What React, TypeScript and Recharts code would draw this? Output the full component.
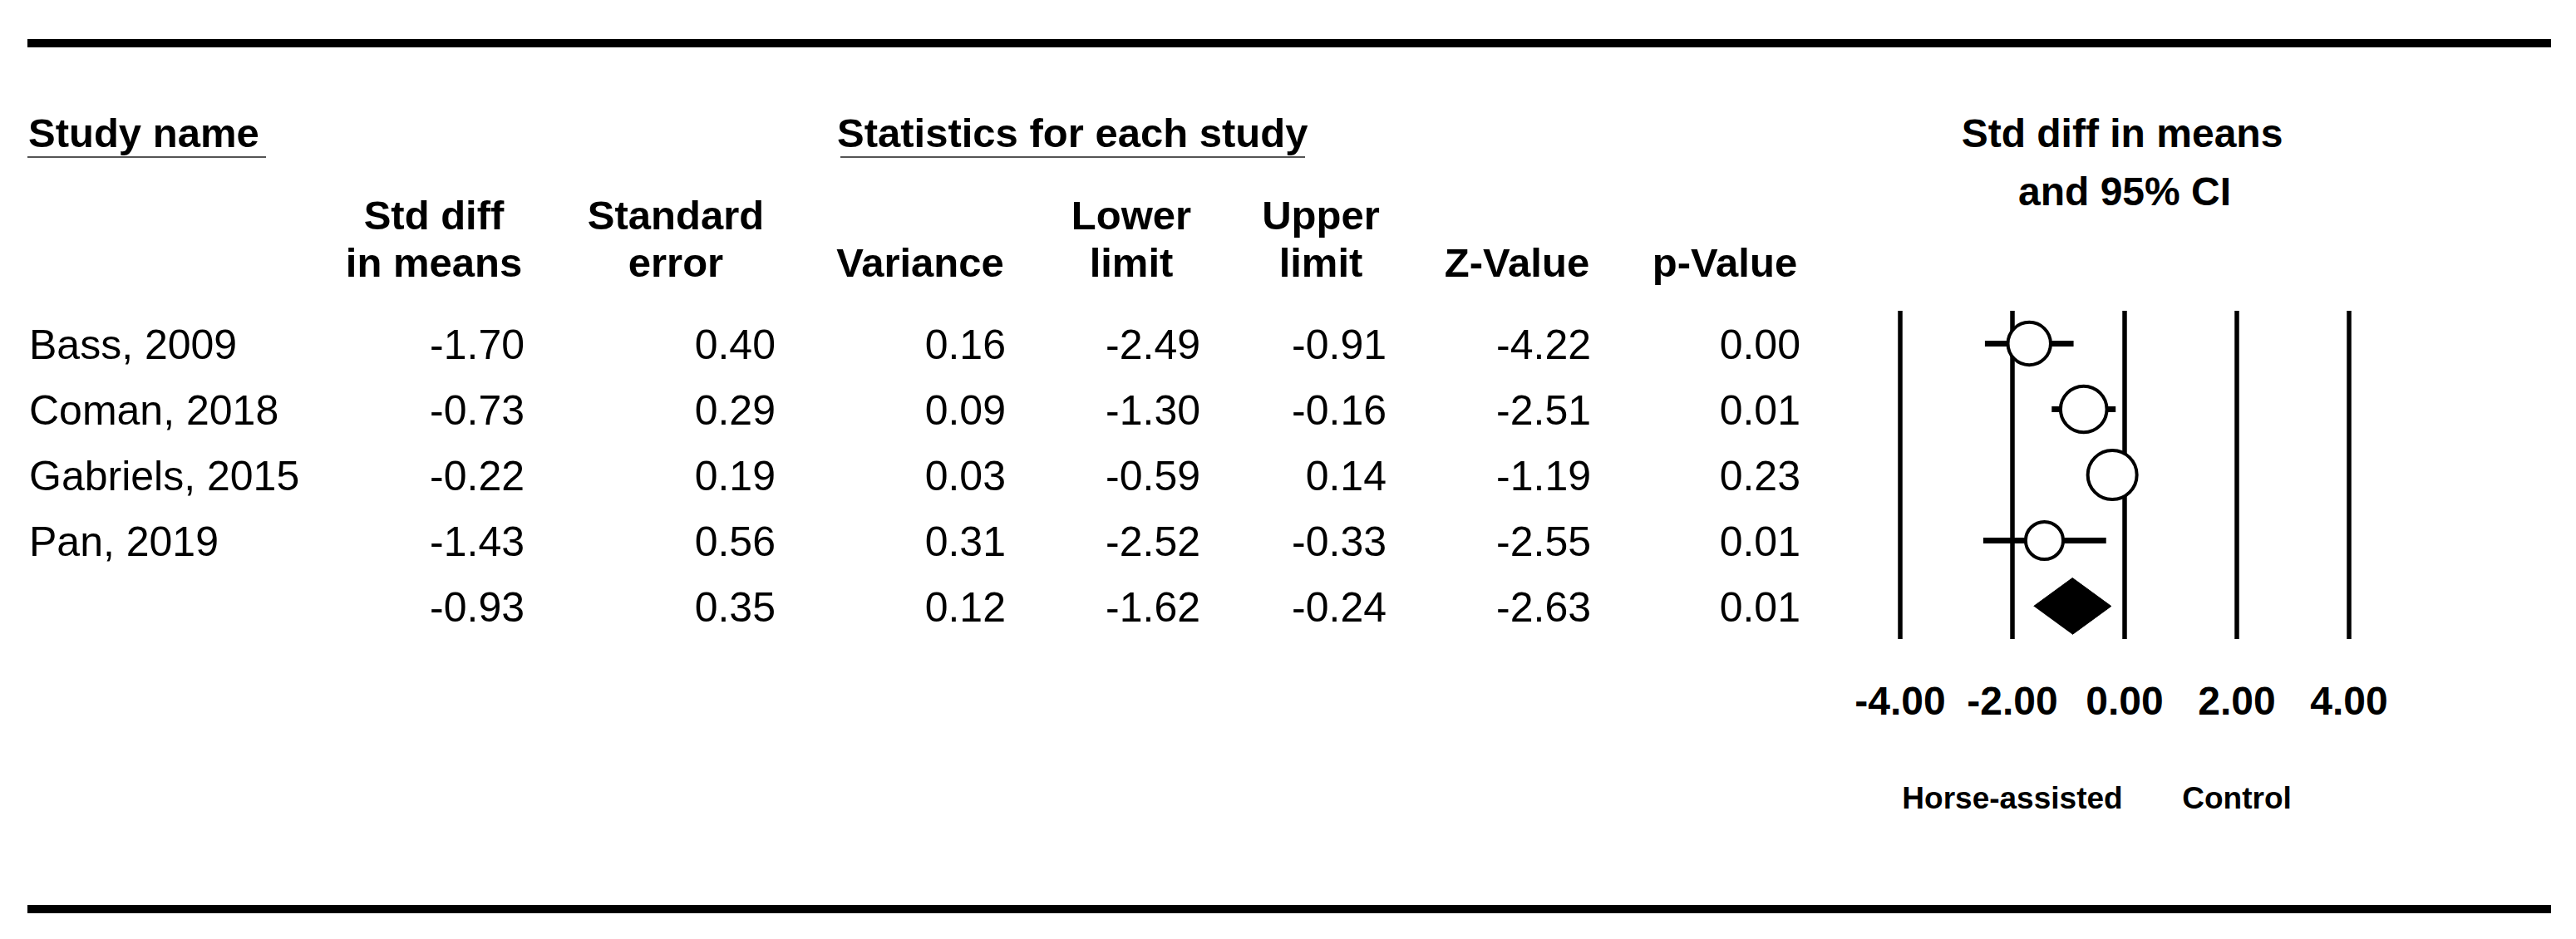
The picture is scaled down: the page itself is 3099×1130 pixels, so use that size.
import React from 'react';
import { ScatterChart, Scatter, XAxis, YAxis, ZAxis, ErrorBar, ReferenceLine } from 'recharts';

// ---- data ----
const STUDIES = ['Bass, 2009', 'Coman, 2018', 'Gabriels, 2015', 'Pan, 2019'];
const SMD = [-1.70, -0.73, -0.22, -1.43];
const STD_ERR = [0.40, 0.29, 0.19, 0.56];
const VARIANCE = [0.16, 0.09, 0.03, 0.31];
const LOWER = [-2.49, -1.30, -0.59, -2.52];
const UPPER = [-0.91, -0.16, 0.14, -0.33];
const Z_VALUE = [-4.22, -2.51, -1.19, -2.55];
const P_VALUE = [0.00, 0.01, 0.23, 0.01];
// relative weight (%)
const WEIGHT = [23.5, 27.5, 30.9, 18.1];
// pooled row: smd, se, variance, lower, upper, z, p
const SUMMARY = [-0.93, 0.35, 0.12, -1.62, -0.24, -2.63, 0.01];

const X_TICKS = [-4, -2, 0, 2, 4];
const FAVOURS = ['Horse-assisted', 'Control'];
const FAVOURS_AT = [-2, 2];

const HEADERS = [
    ['Std diff', 'in means'],
    ['Standard', 'error'],
    ['', 'Variance'],
    ['Lower', 'limit'],
    ['Upper', 'limit'],
    ['', 'Z-Value'],
    ['', 'p-Value'],
];

// ---- layout ----
const W = 3099;
const H = 1130;
const FONT = '"Liberation Sans", Arial, Helvetica, sans-serif';
const FS = 50;       // body text
const FS_HEAD = 49;  // bold headers
const COL_RIGHT = [631, 933, 1210, 1444, 1668, 1914, 2166];
const HEAD_CENTER = [522, 813, 1107, 1361, 1589, 1825, 2075];
const ROW_BASE = 432;
const ROW_STEP = 79;
const DIAMOND_HALF = 0.43; // in row units

const fmt = (v: number) => v.toFixed(2);

function TableLayer() {
    const rows = STUDIES.map((name, i) => ({
        name,
        vals: [SMD[i], STD_ERR[i], VARIANCE[i], LOWER[i], UPPER[i], Z_VALUE[i], P_VALUE[i]],
    }));
    rows.push({ name: '', vals: SUMMARY });

    return (
        <svg width={W} height={H} style={{ position: 'absolute', left: 0, top: 0 }} fontFamily={FONT} fill="#000">
            <rect x={33} y={47} width={3036} height={10} fill="#000" />
            <rect x={33} y={1089} width={3036} height={10} fill="#000" />

            <text x={34} y={177} fontSize={FS_HEAD} fontWeight="bold">Study name</text>
            <line x1={33} x2={320} y1={189} y2={189} stroke="#555" strokeWidth={2} />
            <text x={1007} y={177} fontSize={FS_HEAD} fontWeight="bold">Statistics for each study</text>
            <line x1={1011} x2={1570} y1={189} y2={189} stroke="#555" strokeWidth={2} />

            <text x={2553} y={177} fontSize={48} fontWeight="bold" textAnchor="middle">Std diff in means</text>
            <text x={2556} y={247} fontSize={48} fontWeight="bold" textAnchor="middle">and 95% CI</text>

            {HEADERS.map((h, c) => (
                <g key={c} fontSize={FS_HEAD} fontWeight="bold" textAnchor="middle">
                    {h[0] && <text x={HEAD_CENTER[c]} y={276}>{h[0]}</text>}
                    <text x={HEAD_CENTER[c]} y={333}>{h[1]}</text>
                </g>
            ))}

            {rows.map((r, i) => (
                <g key={i} fontSize={FS}>
                    {r.name && <text x={35} y={ROW_BASE + i * ROW_STEP}>{r.name}</text>}
                    {r.vals.map((v, c) => (
                        <text key={c} x={COL_RIGHT[c]} y={ROW_BASE + i * ROW_STEP} textAnchor="end">{fmt(v)}</text>
                    ))}
                </g>
            ))}
        </svg>
    );
}

const StudyMarker = (p: any) => {
    const r = p.size ? Math.sqrt(p.size / Math.PI) : p.width ? p.width / 2 : 28;
    return <circle cx={p.cx} cy={p.cy} r={r} fill="#fff" stroke="#000" strokeWidth={4} />;
};

const ValueTick = (p: any) => (
    <text x={p.x} y={p.y + 91} textAnchor="middle" fontFamily={FONT} fontSize={48} fontWeight="bold" fill="#000">
        {fmt(p.payload.value)}
    </text>
);

const FavourTick = (p: any) => (
    <text x={p.x} y={p.y + 84} textAnchor="middle" fontFamily={FONT} fontSize={37} fontWeight="bold" fill="#000">
        {FAVOURS[FAVOURS_AT.indexOf(p.payload.value)]}
    </text>
);

export default function App() {
    const points = STUDIES.map((name, i) => ({
        name,
        x: SMD[i],
        y: i,
        weight: WEIGHT[i],
        err: [SMD[i] - LOWER[i], UPPER[i] - SMD[i]],
    }));
    const pooledRow = STUDIES.length;
    const diamond = [
        { x: SUMMARY[3], y: pooledRow },
        { x: SUMMARY[0], y: pooledRow - DIAMOND_HALF },
        { x: SUMMARY[4], y: pooledRow },
        { x: SUMMARY[0], y: pooledRow + DIAMOND_HALF },
    ];

    return (
        <div style={{ position: 'absolute', left: 0, top: 0, width: W, height: H, background: '#fff' }}>
            <TableLayer />
            <div style={{ position: 'absolute', left: 0, top: 0 }}>
                <ScatterChart width={W} height={H} margin={{ top: 374, right: 273, bottom: 131, left: 2286 }}>
                    <XAxis
                        type="number"
                        dataKey="x"
                        domain={[-4, 4]}
                        ticks={X_TICKS}
                        interval={0}
                        allowDataOverflow
                        axisLine={false}
                        tickLine={false}
                        tickSize={0}
                        tickMargin={0}
                        height={120}
                        tick={ValueTick}
                    />
                    <XAxis
                        xAxisId="fav"
                        type="number"
                        dataKey="x"
                        domain={[-4, 4]}
                        ticks={FAVOURS_AT}
                        interval={0}
                        allowDataOverflow
                        axisLine={false}
                        tickLine={false}
                        tickSize={0}
                        tickMargin={0}
                        height={110}
                        tick={FavourTick}
                    />
                    <YAxis type="number" dataKey="y" domain={[-0.5, pooledRow + 0.5]} reversed hide width={0} />
                    <ZAxis type="number" dataKey="weight" domain={[0, 40]} range={[0, 3540]} />
                    {X_TICKS.map(t => (
                        <ReferenceLine key={t} x={t} stroke="#000" strokeWidth={5.5} />
                    ))}
                    <Scatter
                        data={diamond}
                        isAnimationActive={false}
                        shape={() => <g />}
                        line={{ fill: '#000', stroke: '#000', strokeWidth: 1 }}
                        lineType="joint"
                    />
                    <Scatter data={points} isAnimationActive={false} shape={StudyMarker}>
                        <ErrorBar dataKey="err" direction="x" width={0} strokeWidth={7} stroke="#000" />
                    </Scatter>
                </ScatterChart>
            </div>
        </div>
    );
}
